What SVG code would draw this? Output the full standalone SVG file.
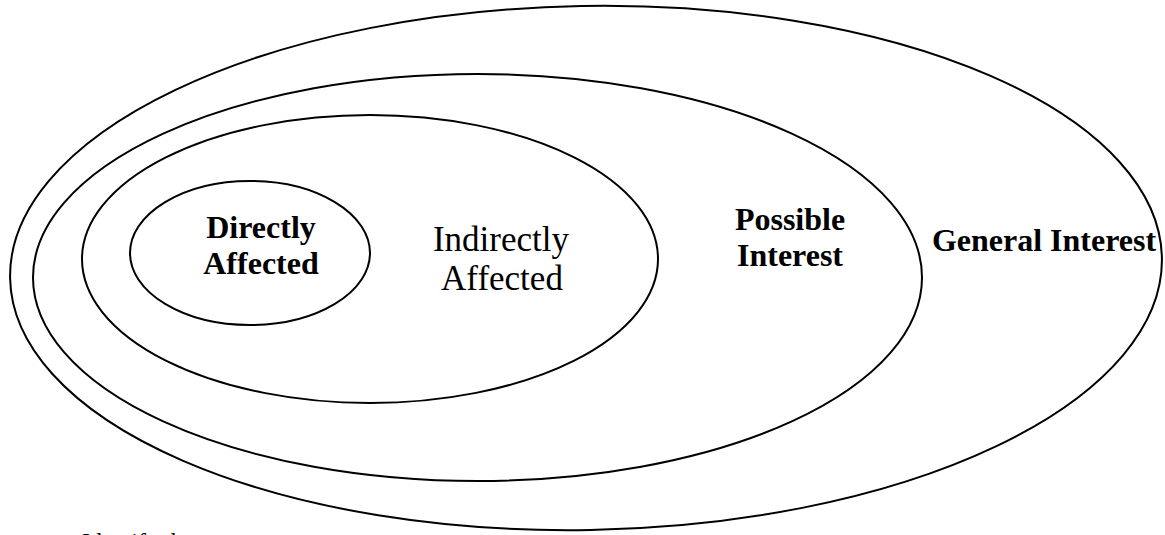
<svg xmlns="http://www.w3.org/2000/svg" width="1165" height="535" viewBox="0 0 1165 535">
  <style>
    .ring { fill: none; stroke: #000; stroke-width: 2; }
    .lbl { font-family: "Liberation Serif", "Times New Roman", serif; fill: #000; text-anchor: middle; }
    .bold { font-weight: bold; font-size: 32px; }
    .plain { font-size: 35px; }
    .note { font-family: "Liberation Serif", "Times New Roman", serif; font-size: 24px; fill: #000; }
  </style>
  <rect width="1165" height="535" fill="#fff"/>

  <g id="general-interest">
    <ellipse class="ring" cx="586" cy="268" rx="576" ry="262" transform="rotate(-1 586 268)"/>
    <text class="lbl bold" x="1044" y="251">General Interest</text>
  </g>

  <g id="possible-interest">
    <ellipse class="ring" cx="477.5" cy="277.5" rx="444.5" ry="203.5"/>
    <text class="lbl bold" x="790" y="230">Possible</text>
    <text class="lbl bold" x="790" y="266">Interest</text>
  </g>

  <g id="indirectly-affected">
    <ellipse class="ring" cx="370" cy="259" rx="288" ry="144"/>
    <text class="lbl plain" x="501" y="251">Indirectly</text>
    <text class="lbl plain" x="502" y="290">Affected</text>
  </g>

  <g id="directly-affected">
    <ellipse class="ring" cx="250" cy="253" rx="120" ry="72"/>
    <text class="lbl bold" x="261" y="238">Directly</text>
    <text class="lbl bold" x="261" y="274">Affected</text>
  </g>

  <g id="connectors"></g>

  <text class="note" x="82" y="549">Identify the</text>
</svg>
